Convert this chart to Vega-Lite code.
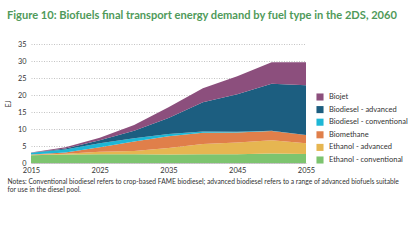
{
  "$schema": "https://vega.github.io/schema/vega-lite/v6.json",
  "autosize": "none",
  "width": 275,
  "height": 119,
  "padding": {"left": 31, "top": 44, "right": 104, "bottom": 79},
  "background": "white",
  "config": {
    "font": "Lato",
    "view": {"stroke": null},
    "axis": {"labelFont": "Lato", "titleFont": "Lato", "labelColor": "#333333", "titleColor": "#333333"}
  },
  "title": {
    "text": "Figure 10: Biofuels final transport energy demand by fuel type in the 2DS, 2060",
    "anchor": "start",
    "frame": "group",
    "dx": -24,
    "offset": 19,
    "fontSize": 11.1,
    "fontWeight": "bold",
    "font": "Lato",
    "color": "#4f9a5a"
  },
  "data": {
    "values": [
      {"year": 2015, "fuel": "Ethanol - conventional", "o": 1, "v": 2.3},
      {"year": 2015, "fuel": "Ethanol - advanced", "o": 2, "v": 0.1},
      {"year": 2015, "fuel": "Biomethane", "o": 3, "v": 0.1},
      {"year": 2015, "fuel": "Biodiesel - conventional", "o": 4, "v": 0.5},
      {"year": 2015, "fuel": "Biodiesel - advanced", "o": 5, "v": 0.05},
      {"year": 2015, "fuel": "Biojet", "o": 6, "v": 0.05},
      {"year": 2020, "fuel": "Ethanol - conventional", "o": 1, "v": 2.5},
      {"year": 2020, "fuel": "Ethanol - advanced", "o": 2, "v": 0.2},
      {"year": 2020, "fuel": "Biomethane", "o": 3, "v": 0.4},
      {"year": 2020, "fuel": "Biodiesel - conventional", "o": 4, "v": 0.9},
      {"year": 2020, "fuel": "Biodiesel - advanced", "o": 5, "v": 0.3},
      {"year": 2020, "fuel": "Biojet", "o": 6, "v": 0.3},
      {"year": 2025, "fuel": "Ethanol - conventional", "o": 1, "v": 2.6},
      {"year": 2025, "fuel": "Ethanol - advanced", "o": 2, "v": 0.7},
      {"year": 2025, "fuel": "Biomethane", "o": 3, "v": 1.3},
      {"year": 2025, "fuel": "Biodiesel - conventional", "o": 4, "v": 1.2},
      {"year": 2025, "fuel": "Biodiesel - advanced", "o": 5, "v": 0.9},
      {"year": 2025, "fuel": "Biojet", "o": 6, "v": 0.7},
      {"year": 2030, "fuel": "Ethanol - conventional", "o": 1, "v": 2.6},
      {"year": 2030, "fuel": "Ethanol - advanced", "o": 2, "v": 0.9},
      {"year": 2030, "fuel": "Biomethane", "o": 3, "v": 2.8},
      {"year": 2030, "fuel": "Biodiesel - conventional", "o": 4, "v": 1.0},
      {"year": 2030, "fuel": "Biodiesel - advanced", "o": 5, "v": 2.2},
      {"year": 2030, "fuel": "Biojet", "o": 6, "v": 1.7},
      {"year": 2035, "fuel": "Ethanol - conventional", "o": 1, "v": 2.5},
      {"year": 2035, "fuel": "Ethanol - advanced", "o": 2, "v": 1.9},
      {"year": 2035, "fuel": "Biomethane", "o": 3, "v": 3.5},
      {"year": 2035, "fuel": "Biodiesel - conventional", "o": 4, "v": 0.6},
      {"year": 2035, "fuel": "Biodiesel - advanced", "o": 5, "v": 4.7},
      {"year": 2035, "fuel": "Biojet", "o": 6, "v": 3.2},
      {"year": 2040, "fuel": "Ethanol - conventional", "o": 1, "v": 2.6},
      {"year": 2040, "fuel": "Ethanol - advanced", "o": 2, "v": 3.0},
      {"year": 2040, "fuel": "Biomethane", "o": 3, "v": 3.3},
      {"year": 2040, "fuel": "Biodiesel - conventional", "o": 4, "v": 0.4},
      {"year": 2040, "fuel": "Biodiesel - advanced", "o": 5, "v": 8.6},
      {"year": 2040, "fuel": "Biojet", "o": 6, "v": 4.1},
      {"year": 2045, "fuel": "Ethanol - conventional", "o": 1, "v": 2.6},
      {"year": 2045, "fuel": "Ethanol - advanced", "o": 2, "v": 3.4},
      {"year": 2045, "fuel": "Biomethane", "o": 3, "v": 3.0},
      {"year": 2045, "fuel": "Biodiesel - conventional", "o": 4, "v": 0.2},
      {"year": 2045, "fuel": "Biodiesel - advanced", "o": 5, "v": 11.0},
      {"year": 2045, "fuel": "Biojet", "o": 6, "v": 5.3},
      {"year": 2050, "fuel": "Ethanol - conventional", "o": 1, "v": 2.8},
      {"year": 2050, "fuel": "Ethanol - advanced", "o": 2, "v": 3.9},
      {"year": 2050, "fuel": "Biomethane", "o": 3, "v": 2.7},
      {"year": 2050, "fuel": "Biodiesel - conventional", "o": 4, "v": 0.1},
      {"year": 2050, "fuel": "Biodiesel - advanced", "o": 5, "v": 13.8},
      {"year": 2050, "fuel": "Biojet", "o": 6, "v": 6.3},
      {"year": 2055, "fuel": "Ethanol - conventional", "o": 1, "v": 2.65},
      {"year": 2055, "fuel": "Ethanol - advanced", "o": 2, "v": 3.15},
      {"year": 2055, "fuel": "Biomethane", "o": 3, "v": 2.4},
      {"year": 2055, "fuel": "Biodiesel - conventional", "o": 4, "v": 0.05},
      {"year": 2055, "fuel": "Biodiesel - advanced", "o": 5, "v": 14.65},
      {"year": 2055, "fuel": "Biojet", "o": 6, "v": 6.7}
    ]
  },
  "mark": {"type": "area", "interpolate": "linear"},
  "encoding": {
    "x": {
      "field": "year",
      "type": "quantitative",
      "scale": {"domain": [2015, 2055], "nice": false, "zero": false},
      "axis": {
        "values": [2015, 2025, 2035, 2045, 2055],
        "format": "d",
        "grid": false,
        "ticks": false,
        "domain": true,
        "domainColor": "#bbbbbb",
        "domainWidth": 0.8,
        "labelFontSize": 7.5,
        "labelPadding": 3.5,
        "labelFlush": false,
        "title": ["Notes: Conventional biodiesel refers to crop-based FAME biodiesel; advanced biodiesel refers to a range of advanced biofuels suitable", "for use in the diesel pool."],
        "titleFontSize": 6.7,
        "titleFontWeight": "normal",
        "titleAnchor": "start",
        "titleAlign": "left",
        "titleX": -24,
        "titleY": 20,
        "titleLineHeight": 8,
        "titleBaseline": "alphabetic"
      }
    },
    "y": {
      "field": "v",
      "type": "quantitative",
      "stack": "zero",
      "scale": {"domain": [0, 35], "nice": false},
      "axis": {
        "values": [0, 5, 10, 15, 20, 25, 30, 35],
        "grid": true,
        "gridDash": [1, 1.5],
        "gridColor": "#aaaaaa",
        "gridWidth": 0.7,
        "domain": false,
        "ticks": false,
        "labelFontSize": 7.3,
        "labelPadding": 5,
        "title": "EJ",
        "titleFontSize": 7,
        "titleFontWeight": "normal",
        "titlePadding": 6
      }
    },
    "color": {
      "field": "fuel",
      "type": "nominal",
      "scale": {
        "domain": ["Biojet", "Biodiesel - advanced", "Biodiesel - conventional", "Biomethane", "Ethanol - advanced", "Ethanol - conventional"],
        "range": ["#8c4f7d", "#1c5e80", "#1db7d6", "#e07f4a", "#e6b651", "#7dc46f"]
      },
      "legend": {
        "title": null,
        "orient": "none",
        "legendX": 285,
        "legendY": 49,
        "symbolType": "square",
        "symbolSize": 50,
        "symbolStrokeWidth": 0,
        "labelFontSize": 7.5,
        "labelColor": "#333333",
        "rowPadding": 4.6,
        "labelOffset": 5
      }
    },
    "order": {"field": "o", "type": "quantitative"}
  }
}
